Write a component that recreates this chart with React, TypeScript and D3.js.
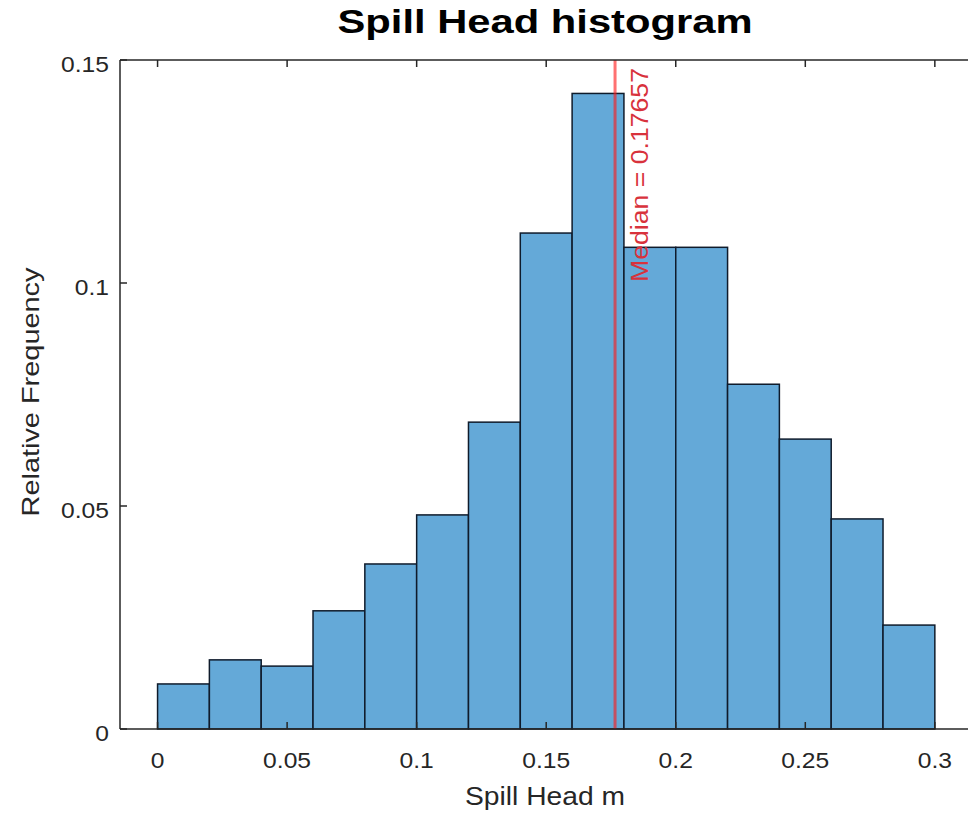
import React from "react";
import * as d3 from "d3";

const binEdges = [0, 0.02, 0.04, 0.06, 0.08, 0.1, 0.12, 0.14, 0.16, 0.18, 0.2, 0.22, 0.24, 0.26, 0.28, 0.3];
const binValues = [0.0101, 0.0155, 0.0141, 0.0265, 0.037, 0.048, 0.0688, 0.1112, 0.1425, 0.108, 0.108, 0.0773, 0.065, 0.0471, 0.0233];
const xTicks = [0, 0.05, 0.1, 0.15, 0.2, 0.25, 0.3];
const yTicks = [0, 0.05, 0.1, 0.15];
const medianValue = 0.17657;

const W = 968, H = 814;
const left = 120, top = 60, bottom = 729;

// approximate Liberation Sans advance widths for tick labels
const charW: Record<string, number> = { ".": 0.278 };
function labelWidth(s: string, size: number) {
  let w = 0;
  for (const c of s) w += charW[c] ?? 0.556;
  return w * size;
}

export default function App() {
  const x = d3.scaleLinear().domain([-0.0145, 0.3155]).range([left, 975]);
  const y = d3.scaleLinear().domain([0, 0.15]).range([bottom, top]);
  const right = x(0.3155);
  const axisColor = "#262626";
  const font = "'Liberation Sans', Arial, Helvetica, sans-serif";
  const tl = 7;
  const tickFont = 22;
  const stretch = 1.12;
  const fmt = (t: number) => String(t);
  return (
    <svg width={W} height={H} style={{ position: "absolute", left: 0, top: 0, background: "#fff" }} fontFamily={font}>
      {binValues.map((v, i) => (
        <rect key={i} x={x(binEdges[i])} y={y(v)} width={x(binEdges[i + 1]) - x(binEdges[i])} height={y(0) - y(v)}
          fill="#64a9d8" stroke="#0f1b2b" strokeWidth={1.5} />
      ))}
      <line x1={x(medianValue)} x2={x(medianValue)} y1={top} y2={bottom} stroke="#ff1a1a" strokeOpacity={0.62} strokeWidth={3} />
      <text transform={`translate(${x(medianValue) + 33},${282}) rotate(-90)`} fill="#d8323c" fontSize={23}
        textLength={214} lengthAdjust="spacingAndGlyphs">
        Median = 0.17657
      </text>
      {/* axes box */}
      <line x1={left} x2={right} y1={bottom} y2={bottom} stroke={axisColor} strokeWidth={1.5} />
      <line x1={left} x2={right} y1={top} y2={top} stroke={axisColor} strokeWidth={1.5} />
      <line x1={left} x2={left} y1={top} y2={bottom} stroke={axisColor} strokeWidth={1.5} />
      <line x1={right} x2={right} y1={top} y2={bottom} stroke={axisColor} strokeWidth={1.5} />
      {xTicks.map((t) => (
        <g key={t}>
          <line x1={x(t)} x2={x(t)} y1={bottom} y2={bottom - tl} stroke={axisColor} strokeWidth={1.5} />
          <line x1={x(t)} x2={x(t)} y1={top} y2={top + tl} stroke={axisColor} strokeWidth={1.5} />
          <text x={x(t)} y={768} textAnchor="middle" fontSize={tickFont} fill={axisColor}
            textLength={labelWidth(fmt(t), tickFont) * stretch} lengthAdjust="spacingAndGlyphs">{fmt(t)}</text>
        </g>
      ))}
      {yTicks.map((t) => (
        <g key={t}>
          <line x1={left} x2={left + tl} y1={y(t)} y2={y(t)} stroke={axisColor} strokeWidth={1.5} />
          <line x1={right} x2={right - tl} y1={y(t)} y2={y(t)} stroke={axisColor} strokeWidth={1.5} />
          <text x={109} y={y(t) + 11.5} textAnchor="end" fontSize={tickFont} fill={axisColor}
            textLength={labelWidth(fmt(t), tickFont) * stretch} lengthAdjust="spacingAndGlyphs">{fmt(t)}</text>
        </g>
      ))}
      <text x={545} y={33} textAnchor="middle" fontSize={33} fontWeight="bold" fill="#000"
        textLength={415} lengthAdjust="spacingAndGlyphs">Spill Head histogram</text>
      <text x={545} y={805} textAnchor="middle" fontSize={26} fill={axisColor}
        textLength={160} lengthAdjust="spacingAndGlyphs">Spill Head m</text>
      <text transform={`translate(39,${392}) rotate(-90)`} textAnchor="middle" fontSize={24} fill={axisColor}
        textLength={249} lengthAdjust="spacingAndGlyphs">Relative Frequency</text>
    </svg>
  );
}
